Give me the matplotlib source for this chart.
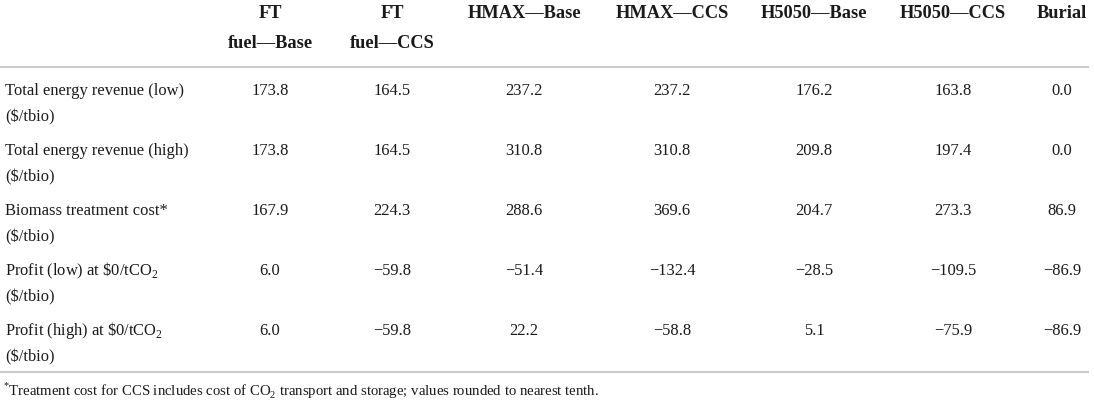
import matplotlib
matplotlib.use("Agg")
import matplotlib.pyplot as plt

plt.rcParams['font.family'] = ['Liberation Serif', 'DejaVu Serif']
plt.rcParams['mathtext.fontset'] = 'custom'
plt.rcParams['mathtext.rm'] = 'Liberation Serif'

# column headers (two-line ones use \n)
columns = ["FT\nfuel\u2014Base", "FT\nfuel\u2014CCS", "HMAX\u2014Base", "HMAX\u2014CCS",
           "H5050\u2014Base", "H5050\u2014CCS", "Burial"]
row_labels = ["Total energy revenue (low)\n(\\$/tbio)",
              "Total energy revenue (high)\n(\\$/tbio)",
              "Biomass treatment cost*\n(\\$/tbio)",
              "Profit (low) at \\$0/tCO$_2$\n(\\$/tbio)",
              "Profit (high) at \\$0/tCO$_2$\n(\\$/tbio)"]
values = [
    [173.8, 164.5, 237.2, 237.2, 176.2, 163.8, 0.0],
    [173.8, 164.5, 310.8, 310.8, 209.8, 197.4, 0.0],
    [167.9, 224.3, 288.6, 369.6, 204.7, 273.3, 86.9],
    [6.0, -59.8, -51.4, -132.4, -28.5, -109.5, -86.9],
    [6.0, -59.8, 22.2, -58.8, 5.1, -75.9, -86.9],
]
footnote = "$^{\\mathrm{*}}$Treatment cost for CCS includes cost of CO$_2$ transport and storage; values rounded to nearest tenth."

fig = plt.figure(figsize=(10.94, 4.02), dpi=100)
ax = fig.add_axes([0, 0, 1, 1])
ax.set_xlim(0, 1094)
ax.set_ylim(402, 0)
ax.axis("off")

col_x = [270, 392, 524, 672, 814, 953, 1062]
fs = 11.9
ink = "#1a1a1a"

for cx, name in zip(col_x, columns):
    for k, p in enumerate(name.split("\n")):
        ax.text(cx, 14 + 29 * k, p, ha="center", va="center", fontsize=13.2,
                fontweight="bold", color=ink)

rule_color = "#cccccc"
ax.plot([0, 1088], [68, 68], color=rule_color, lw=1.5)
ax.plot([0, 1088], [373, 373], color=rule_color, lw=1.5)

def fmt(v):
    s = "%.1f" % abs(v)
    return ("\u2212" + s) if v < 0 else s

for i, (lab, row) in enumerate(zip(row_labels, values)):
    y = 91 + 60 * i
    l1, l2 = lab.split("\n")
    ax.text(5, y, l1, ha="left", va="center", fontsize=fs, color=ink)
    ax.text(5, y + 26, l2, ha="left", va="center", fontsize=fs, color=ink)
    for cx, v in zip(col_x, row):
        ax.text(cx, y, fmt(v), ha="center", va="center", fontsize=fs, color=ink)

ax.text(3, 391, footnote, ha="left", va="center", fontsize=10.6, color=ink)

fig.savefig("out.png", dpi=100)
